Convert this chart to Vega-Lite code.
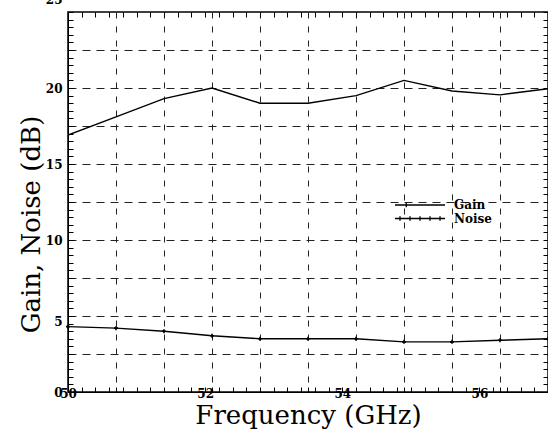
{
  "$schema": "https://vega.github.io/schema/vega-lite/v6.json",
  "width": 480,
  "height": 380,
  "autosize": "none",
  "padding": {"left": 68, "top": 12, "right": 0, "bottom": 38},
  "background": "white",
  "config": {
    "view": {"stroke": "black", "strokeWidth": 1.5},
    "axis": {
      "labelFont": "DejaVu Serif",
      "labelFontWeight": "bold",
      "labelFontSize": 12,
      "labelColor": "black",
      "titleFont": "DejaVu Serif",
      "titleFontWeight": "normal",
      "titleFontSize": 26,
      "titleColor": "black",
      "tickColor": "black",
      "domainColor": "black",
      "labelFlush": false,
      "labelOverlap": false
    }
  },
  "data": {
    "values": [
      {"freq": 50.0, "value": 16.9, "series": "Gain"},
      {"freq": 50.7, "value": 18.1, "series": "Gain"},
      {"freq": 51.4, "value": 19.3, "series": "Gain"},
      {"freq": 52.1, "value": 20.0, "series": "Gain"},
      {"freq": 52.8, "value": 19.0, "series": "Gain"},
      {"freq": 53.5, "value": 19.0, "series": "Gain"},
      {"freq": 54.2, "value": 19.5, "series": "Gain"},
      {"freq": 54.9, "value": 20.5, "series": "Gain"},
      {"freq": 55.6, "value": 19.8, "series": "Gain"},
      {"freq": 56.3, "value": 19.55, "series": "Gain"},
      {"freq": 57.0, "value": 19.95, "series": "Gain"},
      {"freq": 50.0, "value": 4.3, "series": "Noise"},
      {"freq": 50.7, "value": 4.2, "series": "Noise"},
      {"freq": 51.4, "value": 4.0, "series": "Noise"},
      {"freq": 52.1, "value": 3.7, "series": "Noise"},
      {"freq": 52.8, "value": 3.5, "series": "Noise"},
      {"freq": 53.5, "value": 3.5, "series": "Noise"},
      {"freq": 54.2, "value": 3.5, "series": "Noise"},
      {"freq": 54.9, "value": 3.3, "series": "Noise"},
      {"freq": 55.6, "value": 3.3, "series": "Noise"},
      {"freq": 56.3, "value": 3.4, "series": "Noise"},
      {"freq": 57.0, "value": 3.5, "series": "Noise"}
    ]
  },
  "resolve": {"axis": {"x": "independent", "y": "independent"}},
  "layer": [
    {
      "mark": {"type": "line", "strokeWidth": 1.4, "clip": true},
      "encoding": {
        "x": {
          "field": "freq", "type": "quantitative",
          "scale": {"domain": [50, 57], "nice": false, "zero": false},
          "axis": {
            "orient": "bottom",
            "title": "Frequency (GHz)",
            "titleBaseline": "alphabetic",
            "titleY": 31,
            "values": [50, 50.2, 50.4, 50.6, 50.7, 50.8, 51, 51.2, 51.4, 51.6, 51.8, 52, 52.1, 52.2, 52.4, 52.6, 52.8, 53, 53.2, 53.4, 53.5, 53.6, 53.8, 54, 54.2, 54.4, 54.6, 54.8, 54.9, 55, 55.2, 55.4, 55.6, 55.8, 56, 56.2, 56.3, 56.4, 56.6, 56.8, 57],
            "labelExpr": "indexof([50, 52, 54, 56], datum.value) >= 0 ? format(datum.value, 'd') : ''",
            "tickSize": -5,
            "labelPadding": 1,
            "domain": true,
            "grid": true,
            "gridColor": "#222",
            "gridDash": [6, 8],
            "gridWidth": 1,
            "gridOpacity": {"condition": {"test": "indexof([50.7, 51.4, 52.1, 52.8, 53.5, 54.2, 54.9, 55.6, 56.3], datum.value) >= 0", "value": 1}, "value": 0}
          }
        },
        "y": {
          "field": "value", "type": "quantitative",
          "scale": {"domain": [0, 25], "nice": false},
          "axis": {
            "orient": "left",
            "title": "Gain, Noise (dB)",
            "titleX": -37,
            "titleY": 212,
            "titleBaseline": "middle",
            "titleAlign": "center",
            "titleAngle": 270,
            "values": [0, 0.5, 1, 1.5, 2, 2.5, 3, 3.5, 4, 4.5, 5, 5.5, 6, 6.5, 7, 7.5, 8, 8.5, 9, 9.5, 10, 10.5, 11, 11.5, 12, 12.5, 13, 13.5, 14, 14.5, 15, 15.5, 16, 16.5, 17, 17.5, 18, 18.5, 19, 19.5, 20, 20.5, 21, 21.5, 22, 22.5, 23, 23.5, 24, 24.5, 25],
            "labelExpr": "datum.value % 5 === 0 ? format(datum.value, 'd') : ''",
            "labelOffset": {"condition": [{"test": "datum.value === 25", "value": -13}, {"test": "datum.value === 5", "value": 5}], "value": 0},
            "tickSize": -5,
            "labelPadding": 11,
            "domain": true,
            "grid": true,
            "gridColor": "#222",
            "gridDash": [8, 6],
            "gridWidth": 1,
            "gridOpacity": {"condition": {"test": "datum.value % 2.5 === 0 && datum.value > 0 && datum.value < 25", "value": 1}, "value": 0}
          }
        },
        "color": {
          "field": "series", "type": "nominal",
          "scale": {"domain": ["Gain", "Noise"], "range": ["black", "black"]},
          "legend": {
            "title": null,
            "orient": "none",
            "legendX": 326,
            "legendY": 187,
            "padding": 0,
            "rowPadding": 1.5,
            "clipHeight": 12,
            "symbolSize": 2500,
            "symbolStrokeWidth": 1.3,
            "symbolStrokeColor": "black",
            "symbolFillColor": "transparent",
            "labelFont": "DejaVu Serif",
            "labelFontWeight": "bold",
            "labelFontSize": 12,
            "labelColor": "black",
            "labelOffset": 8,
            "encode": {
              "symbols": {
                "update": {
                  "shape": {"signal": "datum.value === 'Gain' ? 'M-1,0H1M-0.55,-0.09V0.09' : 'M-1,0H1M-0.8,-0.09V0.09M-0.4,-0.09V0.09M0,-0.09V0.09M0.4,-0.09V0.09M0.8,-0.09V0.09'"},
                  "stroke": {"value": "black"},
                  "fill": {"value": "transparent"},
                  "strokeWidth": {"value": 1.3}
                }
              }
            }
          }
        }
      }
    },
    {
      "transform": [{"filter": "datum.series === 'Noise'"}],
      "mark": {"type": "point", "shape": "cross", "filled": true, "size": 16, "color": "black", "opacity": 1},
      "encoding": {
        "x": {
          "field": "freq", "type": "quantitative",
          "axis": {
            "orient": "top",
            "title": null,
            "labels": false,
            "grid": false,
            "domain": false,
            "tickSize": -5,
            "values": [50, 50.2, 50.4, 50.6, 50.8, 51, 51.2, 51.4, 51.6, 51.8, 52, 52.2, 52.4, 52.6, 52.8, 53, 53.2, 53.4, 53.6, 53.8, 54, 54.2, 54.4, 54.6, 54.8, 55, 55.2, 55.4, 55.6, 55.8, 56, 56.2, 56.4, 56.6, 56.8, 57]
          }
        },
        "y": {
          "field": "value", "type": "quantitative",
          "axis": {
            "orient": "right",
            "title": null,
            "labels": false,
            "grid": false,
            "domain": false,
            "tickSize": -5,
            "values": [0, 0.5, 1, 1.5, 2, 2.5, 3, 3.5, 4, 4.5, 5, 5.5, 6, 6.5, 7, 7.5, 8, 8.5, 9, 9.5, 10, 10.5, 11, 11.5, 12, 12.5, 13, 13.5, 14, 14.5, 15, 15.5, 16, 16.5, 17, 17.5, 18, 18.5, 19, 19.5, 20, 20.5, 21, 21.5, 22, 22.5, 23, 23.5, 24, 24.5, 25]
          }
        }
      }
    }
  ]
}
